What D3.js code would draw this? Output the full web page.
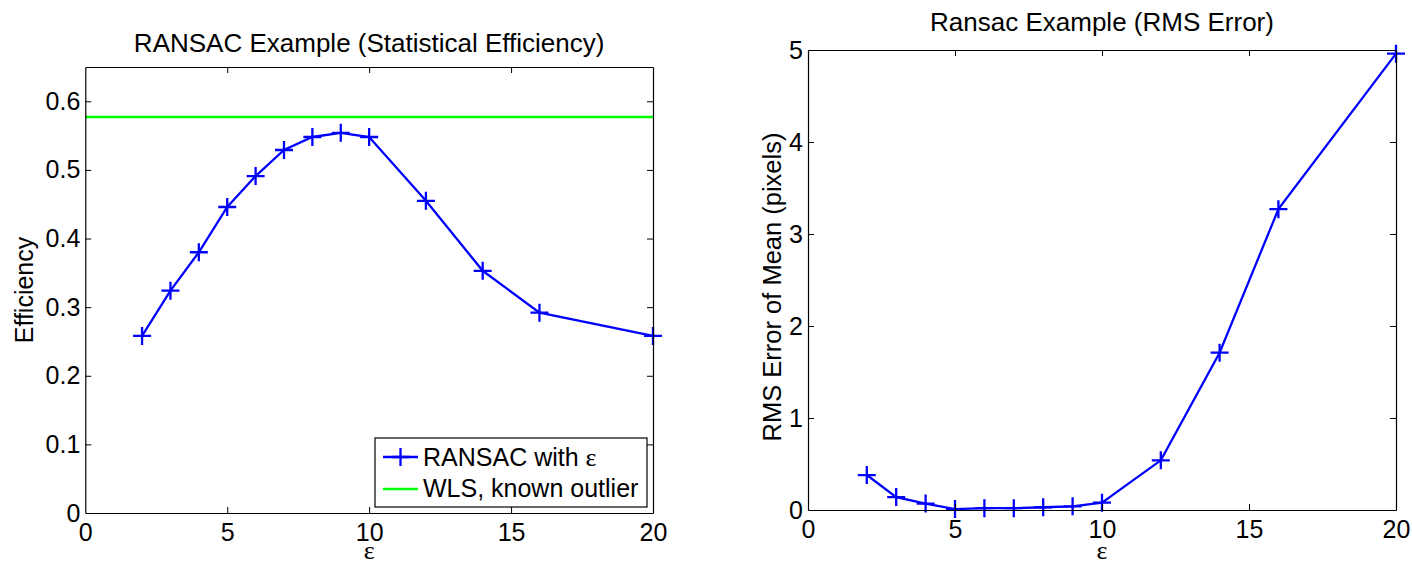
<!DOCTYPE html>
<html><head><meta charset="utf-8">
<script src="https://cdn.jsdelivr.net/npm/d3@7"></script>
<style>
body{margin:0;background:#fff}
text{font-family:"Liberation Sans",Arial,Helvetica,sans-serif;fill:#000}
.serif{font-family:"Liberation Serif","Times New Roman",serif}
</style>
</head><body>
<svg id="c" width="1412" height="565"></svg>
<script>
// ---- data ----
const epsValues = [2,3,4,5,6,7,8,9,10,12,14,16,20];
const efficiency = [0.258,0.324,0.380,0.446,0.491,0.529,0.548,0.554,0.548,0.455,0.353,0.292,0.258];
const wlsEfficiency = 0.577;
const rmsError = [0.38,0.14,0.07,0.01,0.02,0.02,0.03,0.04,0.08,0.54,1.71,3.27,4.96];
const xTicks = [0,5,10,15,20];
const effTicks = [0,0.1,0.2,0.3,0.4,0.5,0.6];
const rmsTicks = [0,1,2,3,4,5];
const legendLabels = ["RANSAC with ", "WLS, known outlier"];
const titles = ["RANSAC Example (Statistical Efficiency)", "Ransac Example (RMS Error)"];
const yLabels = ["Efficiency", "RMS Error of Mean (pixels)"];
const xLabel = "\u03B5";

const BLUE = "#0000ff", GREEN = "#00ff00";
const svg = d3.select("#c");

function panel(o){
  const g = svg.append("g");
  const x = d3.scaleLinear().domain([0,20]).range([o.x0,o.x1]);
  const y = d3.scaleLinear().domain(o.yDomain).range([o.y0,o.y1]);
  const TS = 6;
  const styleAxis = a => {
    a.selectAll("path.domain").attr("stroke","#000").attr("stroke-width",1.2);
    a.selectAll(".tick line").attr("stroke","#000").attr("stroke-width",1);
    a.selectAll("text").attr("font-size",25).attr("font-family",'"Liberation Sans",Arial,sans-serif').attr("fill","#000");
    a.attr("font-family",null).attr("font-size",null);
  };
  if (o.hline !== undefined){
    g.append("line").attr("x1",x(0)).attr("x2",x(20)).attr("y1",y(o.hline)).attr("y2",y(o.hline))
      .attr("stroke",GREEN).attr("stroke-width",2.5);
  }
  const pts = epsValues.map((e,i)=>[e,o.values[i]]);
  g.append("path").attr("d", d3.line().x(d=>x(d[0])).y(d=>y(d[1]))(pts))
    .attr("fill","none").attr("stroke",BLUE).attr("stroke-width",2.3);
  const M = 9;
  g.selectAll("path.mk").data(pts).join("path").attr("class","mk")
    .attr("d", d=>`M${x(d[0])-M},${y(d[1])}H${x(d[0])+M}M${x(d[0])},${y(d[1])-M}V${y(d[1])+M}`)
    .attr("stroke",BLUE).attr("stroke-width",2.3).attr("fill","none");
  const ab = g.append("g").attr("transform",`translate(0,${o.y0})`)
    .call(d3.axisBottom(x).tickValues(xTicks).tickSizeInner(-TS).tickSizeOuter(0).tickPadding(10).tickFormat(d3.format("d")));
  styleAxis(ab);
  const at = g.append("g").attr("transform",`translate(0,${o.y1})`)
    .call(d3.axisTop(x).tickValues(xTicks).tickSizeInner(-TS).tickSizeOuter(0).tickFormat(""));
  styleAxis(at);
  const al = g.append("g").attr("transform",`translate(${o.x0},0)`)
    .call(d3.axisLeft(y).tickValues(o.yTicks).tickSizeInner(-TS).tickSizeOuter(0).tickPadding(5).tickFormat(o.yFmt));
  styleAxis(al);
  const ar = g.append("g").attr("transform",`translate(${o.x1},0)`)
    .call(d3.axisRight(y).tickValues(o.yTicks).tickSizeInner(-TS).tickSizeOuter(0).tickFormat(""));
  styleAxis(ar);
  [ab,at].forEach(a=>a.selectAll(".tick line").filter(d=>d===0||d===20).remove());
  [al,ar].forEach(a=>a.selectAll(".tick line").filter(d=>d===o.yDomain[0]||d===o.yDomain[1]).remove());
  g.append("text").attr("x",(o.x0+o.x1)/2).attr("y",o.titleY).attr("text-anchor","middle")
    .attr("font-size",26).text(o.title);
  g.append("text").attr("class","serif").attr("x",(o.x0+o.x1)/2).attr("y",559).attr("text-anchor","middle")
    .attr("font-size",26).text(xLabel);
  g.append("text").attr("transform",`translate(${o.ylabX},${o.ylabY}) rotate(-90)`).attr("text-anchor","middle")
    .attr("font-size",o.ylabSize).text(o.ylabel);
  return {g,x,y};
}

const p1 = panel({x0:85.3,x1:653,y0:513,y1:67,yDomain:[0,0.65],yTicks:effTicks,yFmt:d=>d===0?"0":d3.format(".1f")(d),
  values:efficiency,hline:wlsEfficiency,title:titles[0],titleY:52,ylabel:yLabels[0],ylabX:33,ylabY:290,ylabSize:25});
const p2 = panel({x0:808,x1:1396,y0:510,y1:50,yDomain:[0,5],yTicks:rmsTicks,yFmt:d3.format("d"),
  values:rmsError,title:titles[1],titleY:31,ylabel:yLabels[1],ylabX:781,ylabY:287,ylabSize:25.5});

// legend in panel 1
const lg = p1.g.append("g");
const lx = 375, ly = 438, lw = 272, lh = 69;
lg.append("rect").attr("x",lx).attr("y",ly).attr("width",lw).attr("height",lh)
  .attr("fill","#fff").attr("stroke","#000").attr("stroke-width",1.2);
const r1 = ly+19, r2 = ly+51;
lg.append("line").attr("x1",lx+8).attr("x2",lx+43).attr("y1",r1).attr("y2",r1).attr("stroke",BLUE).attr("stroke-width",2.3);
lg.append("path").attr("d",`M${lx+16.5},${r1}H${lx+34.5}M${lx+25.5},${r1-9}V${r1+9}`).attr("stroke",BLUE).attr("stroke-width",2.3);
lg.append("line").attr("x1",lx+8).attr("x2",lx+43).attr("y1",r2).attr("y2",r2).attr("stroke",GREEN).attr("stroke-width",2.5);
const t1 = lg.append("text").attr("x",lx+48).attr("y",r1+9).attr("font-size",25).text(legendLabels[0]);
t1.append("tspan").attr("class","serif").attr("font-size",26).text(xLabel);
lg.append("text").attr("x",lx+48).attr("y",r2+8).attr("font-size",25).text(legendLabels[1]);
</script>
</body></html>
